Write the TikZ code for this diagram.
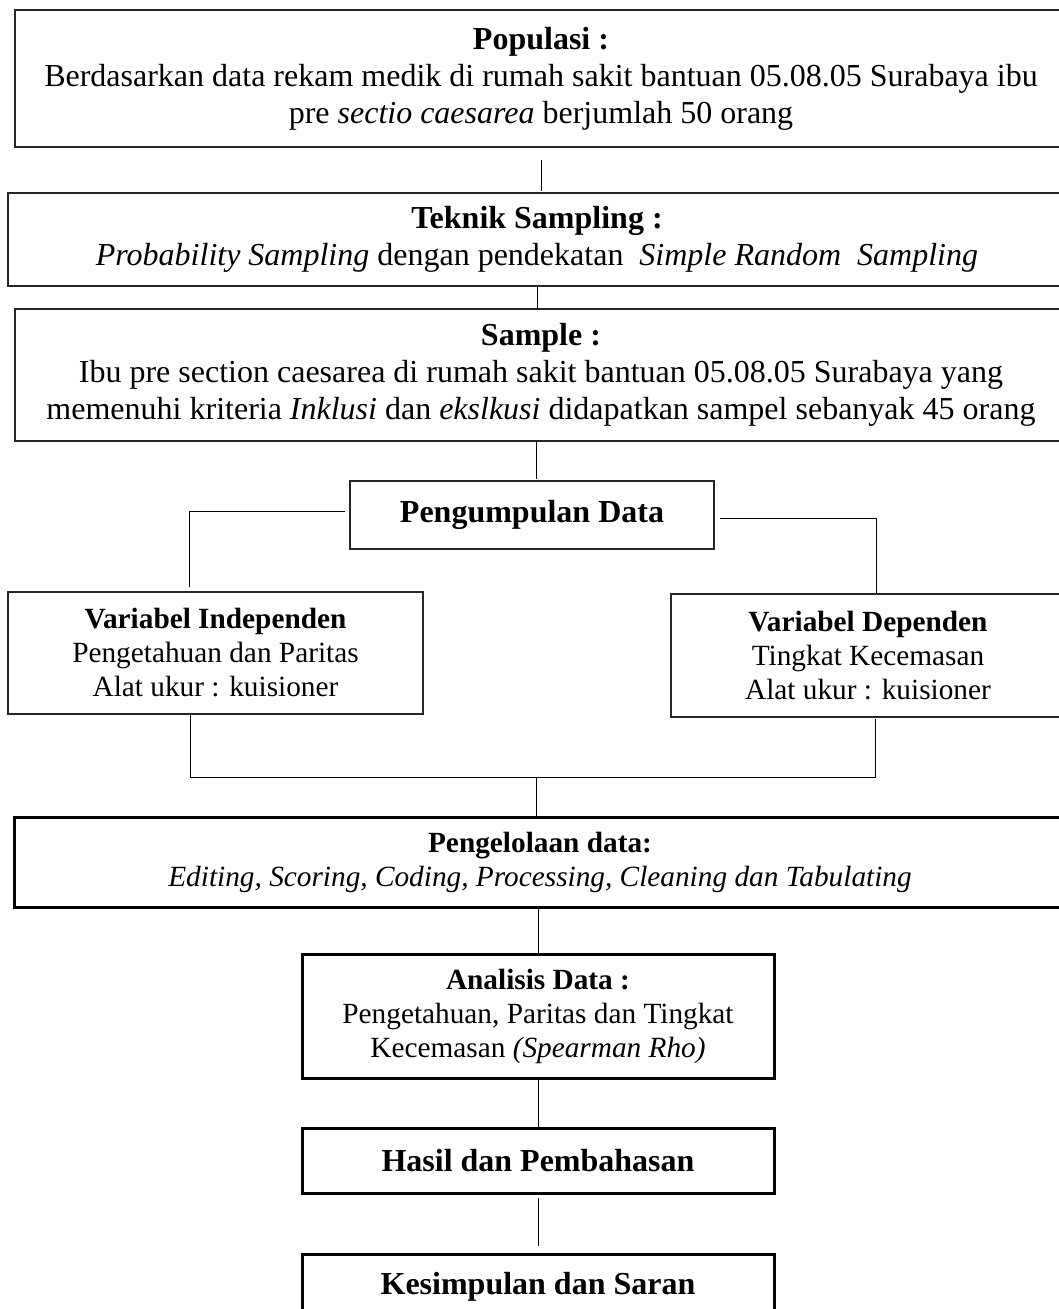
\documentclass[tikz,border=0pt]{standalone}
\usepackage{fontspec}
\setmainfont{Liberation Serif}
\newcommand\ftw{\fontsize{32}{37}\selectfont}
\newcommand\fel{\fontsize{29.3}{34}\selectfont}
\begin{document}
\begin{tikzpicture}[x=1pt,y=-1pt,
  box/.style={draw=black!85,line width=1.6pt,rectangle,inner sep=0pt,outer sep=0pt,align=center,font=\ftw},
  thick box/.style={box,draw=black,line width=3pt},
  small/.style={font=\fel},
  conn/.style={draw=black,line width=0.9pt}]
\useasboundingbox (0,0) rectangle (1059,1309);
\node[box,minimum width=1052,minimum height=137] (pop) at (541,78.5)
  {\textbf{Populasi :}\\ Berdasarkan data rekam medik di rumah sakit bantuan 05.08.05 Surabaya ibu\\ pre \textit{sectio caesarea} berjumlah 50 orang};
\node[box,minimum width=1058,minimum height=93] (tek) at (537,239.5)
  {\textbf{Teknik Sampling :}\\ \textit{Probability Sampling} dengan pendekatan \ \textit{Simple Random \ Sampling}};
\node[box,minimum width=1052,minimum height=132] (samp) at (541,375)
  {\textbf{Sample :}\\ Ibu pre section caesarea di rumah sakit bantuan 05.08.05 Surabaya yang\\ memenuhi kriteria \textit{Inklusi} dan \textit{ekslkusi} didapatkan sampel sebanyak 45 orang};
\node[box,minimum width=364,minimum height=68] (peng) at (532,515)
  {\textbf{Pengumpulan Data}};
\node[box,small,minimum width=415,minimum height=122] (vind) at (215.5,653)
  {\textbf{Variabel Independen}\\ Pengetahuan dan Paritas\\ Alat ukur : kuisioner};
\node[box,small,minimum width=394,minimum height=123] (vdep) at (868,655.5)
  {\textbf{Variabel Dependen}\\ Tingkat Kecemasan\\ Alat ukur : kuisioner};
\node[thick box,small,minimum width=1052,minimum height=90] (olah) at (540,862)
  {\textbf{Pengelolaan data:}\\ \textit{Editing, Scoring, Coding, Processing, Cleaning dan Tabulating}};
\node[thick box,small,minimum width=472,minimum height=124] (anal) at (538,1016)
  {\textbf{Analisis Data :}\\ Pengetahuan, Paritas dan Tingkat\\ Kecemasan \textit{(Spearman Rho)}};
\node[thick box,minimum width=472,minimum height=65] (hasil) at (538,1160.5)
  {\textbf{Hasil dan Pembahasan}};
\node[thick box,minimum width=472,minimum height=65] (kes) at (538,1286.5)
  {\textbf{Kesimpulan dan Saran}};
\coordinate (jl) at (189,511);
\coordinate (jr) at (876,518);
\coordinate (jbl) at (190,777);
\coordinate (jbr) at (875,777);
\coordinate (jb) at (536,777);
\draw[conn,shorten <=13pt,shorten >=2pt] (pop.south) -- (pop.south |- tek.north);
\draw[conn] (tek.south) -- (tek.south |- samp.north);
\draw[conn,shorten >=2pt] ([xshift=4pt]peng.north |- samp.south) -- ([xshift=4pt]peng.north);
\draw[conn,shorten >=5pt] ([xshift=-5pt]peng.west |- jl) -- (jl) -- (jl |- vind.north);
\draw[conn,shorten >=1pt] ([xshift=6pt]peng.east |- jr) -- (jr) -- (jr |- vdep.north);
\draw[conn] (vind.south -| jbl) -- (jbl) -- (jbr) -- ([yshift=-2pt]vdep.south -| jbr);
\draw[conn] (jb) -- (jb |- olah.north);
\draw[conn] (anal.north |- olah.south) -- (anal.north);
\draw[conn] (anal.south) -- (hasil.north);
\draw[conn,shorten <=5pt,shorten >=8pt] (hasil.south) -- (kes.north);
\end{tikzpicture}
\end{document}
